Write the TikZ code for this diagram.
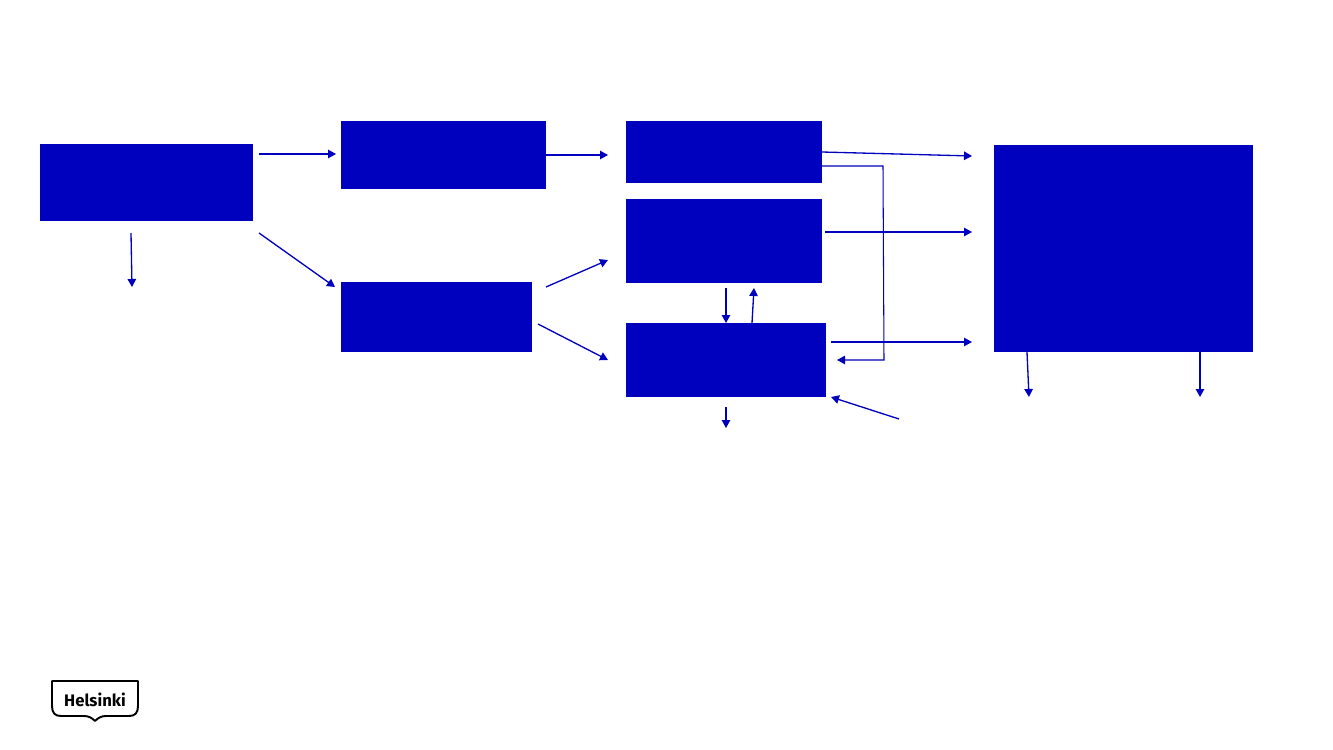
\documentclass[tikz,border=0pt]{standalone}
\usepackage{fontspec}
\setmainfont{Fira Sans}
\usepackage{xcolor}
\usetikzlibrary{arrows.meta,positioning,calc}
\definecolor{hkiblue}{HTML}{0000BF}

\begin{document}
\begin{tikzpicture}[
  x=0.02cm, y=-0.02cm,
  blockbox/.style={fill=hkiblue, draw=none, inner sep=0pt, outer sep=0pt, anchor=north west},
  flow/.style={-{Stealth[length=1.6mm, width=1.7mm, inset=0pt]}, color=hkiblue, line width=0.75pt},
  thinflow/.style={flow, line width=0.6pt},
  logotext/.style={font=\fontsize{9.5}{11}\selectfont\bfseries, text=black, inner sep=0pt},
]
\useasboundingbox (0,0) rectangle (1333,750);

% boxes
\node[blockbox, minimum width=4.26cm, minimum height=1.54cm] (start) at (40,144) {};
\node[blockbox, minimum width=4.10cm, minimum height=1.36cm] (upper) at (341,121) {};
\node[blockbox, minimum width=3.82cm, minimum height=1.40cm] (lower) at (341,282) {};
\node[blockbox, minimum width=3.92cm, minimum height=1.24cm] (topmid) at (626,121) {};
\node[blockbox, minimum width=3.92cm, minimum height=1.68cm] (centre) at (626,199) {};
\node[blockbox, minimum width=4.00cm, minimum height=1.48cm] (botmid) at (626,323) {};
\node[blockbox, minimum width=5.18cm, minimum height=4.14cm] (result) at (994,145) {};

% free ends of the connectors
\coordinate (s1) at (259,154);
\coordinate (u1) at (336,154);
\coordinate (u2) at (608,155);
\coordinate (s2) at (259,233);
\coordinate (l1) at (335,287);
\coordinate (s3) at (131,233);
\coordinate (s4) at (132,287);
\coordinate (l2) at (546,287);
\coordinate (c1) at (608,260);
\coordinate (l3) at (538,324);
\coordinate (b1) at (608,360);
\coordinate (c2) at (726,288);
\coordinate (c3) at (754,288);
\coordinate (b2) at (726,407);
\coordinate (b3) at (726,428);
\coordinate (side) at (899,419);
\coordinate (b4) at (831,397);
\coordinate (r1) at (972,156);
\coordinate (c4) at (825,232);
\coordinate (r2) at (972,232);
\coordinate (b5) at (831,342);
\coordinate (r3) at (972,342);
\coordinate (bend1) at (883,166);
\coordinate (bend2) at (884,360);
\coordinate (b6) at (837,360);
\coordinate (o1) at (1029,397);
\coordinate (o2) at (1200,397);

% connectors
\draw[flow] (s1) -- (u1);
\draw[flow] (upper.east |- u2) -- (u2);
\draw[flow] (s2) -- (l1);
\draw[flow] (s3) -- (s4);
\draw[flow] (l2) -- (c1);
\draw[flow] (l3) -- (b1);
\draw[flow] (c2) -- (c2 |- botmid.north);
\draw[flow] (c3 |- botmid.north) ++(-2,0) -- (c3);
\draw[flow] (b2) -- (b3);
\draw[flow] (side) -- (b4);
\draw[flow] ($(topmid.north east)+(0,31)$) -- (r1);
\draw[flow] (c4) -- (r2);
\draw[flow] (b5) -- (r3);
\draw[thinflow] ($(topmid.north east)+(0,45)$) -- (bend1) -- (bend2) -- (b6);
\draw[flow] ($(result.south west)+(33,0)$) -- (o1);
\draw[flow] (o2 |- result.south) -- (o2);

% logo
\draw[black, line width=1.1pt, line join=round, fill=white] (52,681) -- (138,681) -- (138,706)
  .. controls (138,713) and (135,716) .. (129,716) -- (106,716)
  .. controls (101,716) and (98,718) .. (95,721) .. controls (92,718) and (89,716) .. (84,716)
  -- (61,716) .. controls (55,716) and (52,713) .. (52,706) -- cycle;
\node[logotext] (logo) at (95,699.5) {Helsinki};
\end{tikzpicture}
\end{document}
